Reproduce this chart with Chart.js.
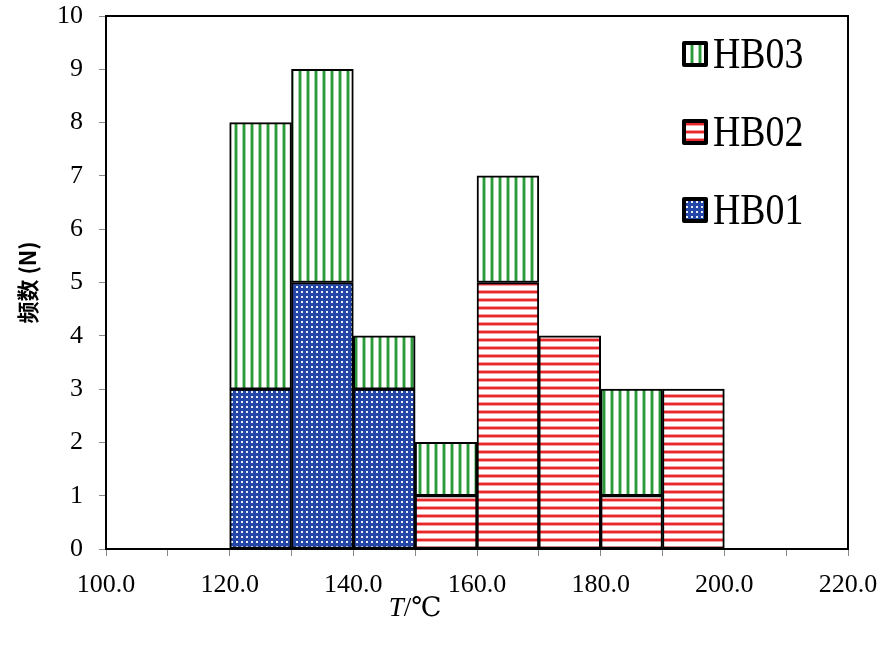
<!DOCTYPE html>
<html>
<head>
<meta charset="utf-8">
<script src="https://cdn.jsdelivr.net/npm/chart.js@4/dist/chart.umd.min.js"></script>
<style>
  html, body { margin: 0; padding: 0; background: #fff; }
  #wrap { width: 887px; height: 645px; }
</style>
</head>
<body>
<div id="wrap"><canvas id="myChart" width="887" height="645"></canvas></div>
<script>
// bin centres (T, deg C), bins are 10 wide
const binCenters = [125, 135, 145, 155, 165, 175, 185, 195];
const hb01 = [3, 5, 3, 0, 0, 0, 0, 0];
const hb02 = [0, 0, 0, 1, 5, 4, 1, 3];
const hb03 = [5, 4, 1, 1, 2, 0, 2, 0];
const seriesNames = ['HB01', 'HB02', 'HB03'];
const xTickLabels = ['100.0', '120.0', '140.0', '160.0', '180.0', '200.0', '220.0'];

const serif = '"Liberation Serif", "DejaVu Serif", serif';

function makePattern(kind) {
  const c = document.createElement('canvas');
  const g = c.getContext('2d');
  if (kind === 'blue') {
    c.width = 5; c.height = 5;
    g.fillStyle = '#2446a6';
    g.fillRect(0, 0, 5, 5);
    g.fillStyle = '#e9eefa';
    g.fillRect(1, 1, 2, 2);
  } else if (kind === 'red') {
    c.width = 8; c.height = 8;
    g.fillStyle = '#fff';
    g.fillRect(0, 0, 8, 8);
    g.fillStyle = '#f5a0a0';
    g.fillRect(0, 2, 8, 4);
    g.fillStyle = '#e8262b';
    g.fillRect(0, 3, 8, 2);
  } else {
    c.width = 8; c.height = 8;
    g.fillStyle = '#fff';
    g.fillRect(0, 0, 8, 8);
    g.fillStyle = '#9fd3a2';
    g.fillRect(2, 0, 4, 8);
    g.fillStyle = '#2a9a3c';
    g.fillRect(3, 0, 2, 8);
  }
  return g.createPattern(c, 'repeat');
}

const ctx = document.getElementById('myChart').getContext('2d');
const patterns = [makePattern('blue'), makePattern('red'), makePattern('green')];

function toPoints(vals) {
  return binCenters.map((x, i) => ({ x: x, y: vals[i] === 0 ? null : vals[i] }));
}

const frame = {
  id: 'frame',
  afterDatasetsDraw(chart) {
    const a = chart.chartArea;
    const c = chart.ctx;
    c.save();
    c.strokeStyle = '#000';
    c.lineWidth = 2;
    c.strokeRect(a.left, a.top, a.right - a.left, a.bottom - a.top);
    c.restore();
  }
};

const extras = {
  id: 'extras',
  afterDraw(chart) {
    const c = chart.ctx;
    const xs = chart.scales.x;
    // x axis title "T/℃"
    c.save();
    c.fillStyle = '#000';
    c.textBaseline = 'middle';
    const cx = xs.getPixelForValue(150);
    c.font = 'italic 27px ' + serif;
    const wT = c.measureText('T').width;
    c.font = '27px ' + serif;
    const wR = c.measureText('/℃').width;
    const x0 = cx - (wT + wR) / 2;
    c.font = 'italic 27px ' + serif;
    c.textAlign = 'left';
    c.fillText('T', x0, 609);
    c.font = '27px ' + serif;
    c.fillText('/℃', x0 + wT, 609);

    // legend, top item is the last series
    const order = [2, 1, 0];
    order.forEach((di, k) => {
      const yc = 54 + k * 78;
      const bx = 684, by = yc - 11, bs = 22;
      c.fillStyle = patterns[di];
      c.fillRect(bx, by, bs, bs);
      c.lineWidth = 4;
      c.strokeStyle = '#000';
      c.lineJoin = 'round';
      c.strokeRect(bx, by, bs, bs);
      c.fillStyle = '#000';
      c.save();
      c.translate(713, yc + 2);
      c.scale(0.86, 1);
      c.font = '44px ' + serif;
      c.textBaseline = 'middle';
      c.fillText(seriesNames[di], 0, 0);
      c.restore();
    });
    c.restore();
  }
};

const chart = new Chart(ctx, {
  type: 'bar',
  data: {
    datasets: [
      { label: seriesNames[0], data: toPoints(hb01), backgroundColor: patterns[0] },
      { label: seriesNames[1], data: toPoints(hb02), backgroundColor: patterns[1] },
      { label: seriesNames[2], data: toPoints(hb03), backgroundColor: patterns[2] }
    ]
  },
  options: {
    responsive: false,
    animation: false,
    devicePixelRatio: 1,
    layout: { padding: { top: 16, right: 39, left: 0, bottom: 0 } },
    datasets: {
      bar: {
        barPercentage: 1,
        categoryPercentage: 1,
        borderColor: '#000',
        borderWidth: 2,
        borderSkipped: false
      }
    },
    plugins: {
      legend: { display: false },
      tooltip: { enabled: false }
    },
    scales: {
      x: {
        type: 'linear',
        stacked: true,
        offset: false,
        min: 100,
        max: 220,
        afterFit(s) {
          s.height = 96;
          s.paddingLeft = 0;
          s.paddingRight = 0;
        },
        grid: { offset: false, drawOnChartArea: false, tickLength: 7, tickColor: '#888', tickWidth: 1 },
        border: { color: '#000', width: 2 },
        ticks: {
          stepSize: 10,
          autoSkip: false,
          maxRotation: 0,
          padding: 14,
          color: '#000',
          font: { family: serif, size: 26 },
          callback(v) {
            const i = xTickLabels.indexOf(Number(v).toFixed(1));
            return i >= 0 ? xTickLabels[i] : '';
          }
        }
      },
      y: {
        stacked: true,
        min: 0,
        max: 10,
        afterFit(s) {
          s.width = 106;
          s.paddingTop = 0;
          s.paddingBottom = 0;
        },
        grid: { drawOnChartArea: false, tickLength: 7, tickColor: '#888', tickWidth: 1 },
        border: { color: '#000', width: 2 },
        ticks: {
          stepSize: 1,
          padding: 16,
          color: '#000',
          font: { family: serif, size: 26 }
        },
        title: {
          display: true,
          text: '频数 (N)',
          color: '#000',
          font: { family: '"Noto Sans CJK SC", sans-serif', size: 22, weight: 'bold' },
          padding: { top: 14, bottom: 0 }
        }
      }
    }
  },
  plugins: [frame, extras]
});
</script>
</body>
</html>
